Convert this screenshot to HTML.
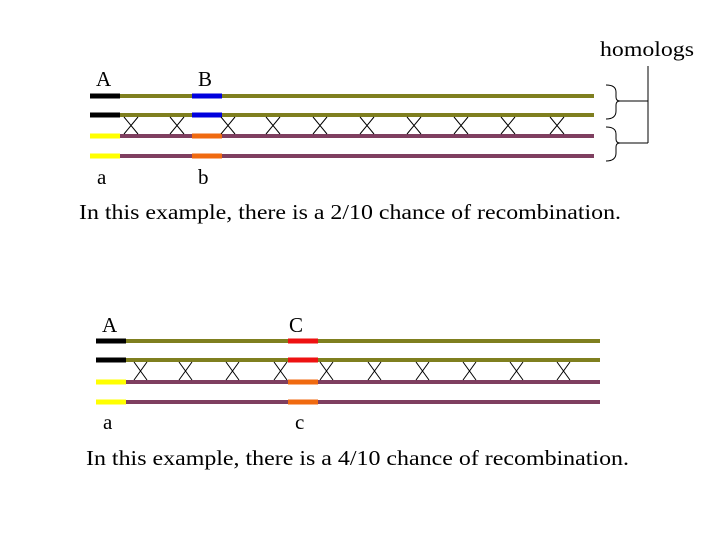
<!DOCTYPE html>
<html><head><meta charset="utf-8"><style>
html,body{margin:0;padding:0;background:#fff;}
svg{display:block;}
text{font-family:"Liberation Serif",serif;fill:#000;}
</style></head><body>
<svg width="720" height="540" viewBox="0 0 720 540" xmlns="http://www.w3.org/2000/svg">
<!-- Top diagram -->
<g stroke-width="4">
<line x1="90" y1="96" x2="594" y2="96" stroke="#7f7f1f"/>
<line x1="90" y1="115" x2="594" y2="115" stroke="#7f7f1f"/>
<line x1="90" y1="136" x2="594" y2="136" stroke="#7f3f60"/>
<line x1="90" y1="156" x2="594" y2="156" stroke="#7f3f60"/>
<line x1="90" y1="96" x2="120" y2="96" stroke="#000" stroke-width="5"/>
<line x1="90" y1="115" x2="120" y2="115" stroke="#000" stroke-width="5"/>
<line x1="90" y1="136" x2="120" y2="136" stroke="#ffff00" stroke-width="5"/>
<line x1="90" y1="156" x2="120" y2="156" stroke="#ffff00" stroke-width="5"/>
<line x1="192" y1="96" x2="222" y2="96" stroke="#0000dd" stroke-width="5"/>
<line x1="192" y1="115" x2="222" y2="115" stroke="#0000dd" stroke-width="5"/>
<line x1="192" y1="136" x2="222" y2="136" stroke="#f06a10" stroke-width="5"/>
<line x1="192" y1="156" x2="222" y2="156" stroke="#f06a10" stroke-width="5"/>
</g>
<g stroke="#000" stroke-width="1" fill="none">
<path d="M124,117L138,134M138,117L124,134"/>
<path d="M170,117L184,134M184,117L170,134"/>
<path d="M221,117L235,134M235,117L221,134"/>
<path d="M266,117L280,134M280,117L266,134"/>
<path d="M313,117L327,134M327,117L313,134"/>
<path d="M360,117L374,134M374,117L360,134"/>
<path d="M407,117L421,134M421,117L407,134"/>
<path d="M454,117L468,134M468,117L454,134"/>
<path d="M501,117L515,134M515,117L501,134"/>
<path d="M550,117L564,134M564,117L550,134"/>
</g>
<text x="96" y="86" font-size="21">A</text>
<text x="198" y="86" font-size="21">B</text>
<text x="97" y="184" font-size="21">a</text>
<text x="198" y="184" font-size="21">b</text>
<text x="79" y="219" font-size="21" textLength="542" lengthAdjust="spacingAndGlyphs">In this example, there is a 2/10 chance of recombination.</text>

<!-- homologs -->
<text x="600" y="56" font-size="21" textLength="94" lengthAdjust="spacingAndGlyphs">homologs</text>
<g stroke="#000" stroke-width="1" fill="none">
<path d="M606,85 Q616,85 616,92 L616,97 Q616,101 620,101 Q616,101 616,105 L616,111 Q616,119 606,119"/>
<path d="M606,127 Q616,127 616,134 L616,139 Q616,143 620,143 Q616,143 616,147 L616,153 Q616,161 606,161"/>
<path d="M620,101H648M620,143H648M648,66V143"/>
</g>

<!-- Bottom diagram -->
<g stroke-width="4">
<line x1="96" y1="341" x2="600" y2="341" stroke="#7f7f1f"/>
<line x1="96" y1="360" x2="600" y2="360" stroke="#7f7f1f"/>
<line x1="96" y1="382" x2="600" y2="382" stroke="#7f3f60"/>
<line x1="96" y1="402" x2="600" y2="402" stroke="#7f3f60"/>
<line x1="96" y1="341" x2="126" y2="341" stroke="#000" stroke-width="5"/>
<line x1="96" y1="360" x2="126" y2="360" stroke="#000" stroke-width="5"/>
<line x1="96" y1="382" x2="126" y2="382" stroke="#ffff00" stroke-width="5"/>
<line x1="96" y1="402" x2="126" y2="402" stroke="#ffff00" stroke-width="5"/>
<line x1="288" y1="341" x2="318" y2="341" stroke="#ee1111" stroke-width="5"/>
<line x1="288" y1="360" x2="318" y2="360" stroke="#ee1111" stroke-width="5"/>
<line x1="288" y1="382" x2="318" y2="382" stroke="#f06a10" stroke-width="5"/>
<line x1="288" y1="402" x2="318" y2="402" stroke="#f06a10" stroke-width="5"/>
</g>
<g stroke="#000" stroke-width="1" fill="none">
<path d="M134,362L147,380M147,362L134,380"/>
<path d="M179,362L192,380M192,362L179,380"/>
<path d="M226,362L239,380M239,362L226,380"/>
<path d="M274,362L287,380M287,362L274,380"/>
<path d="M320,362L333,380M333,362L320,380"/>
<path d="M368,362L381,380M381,362L368,380"/>
<path d="M416,362L429,380M429,362L416,380"/>
<path d="M463,362L476,380M476,362L463,380"/>
<path d="M510,362L523,380M523,362L510,380"/>
<path d="M557,362L570,380M570,362L557,380"/>
</g>
<text x="102" y="332" font-size="21">A</text>
<text x="289" y="332" font-size="21">C</text>
<text x="103" y="429" font-size="21">a</text>
<text x="295" y="429" font-size="21">c</text>
<text x="86" y="465" font-size="21" textLength="543" lengthAdjust="spacingAndGlyphs">In this example, there is a 4/10 chance of recombination.</text>
</svg>
</body></html>
